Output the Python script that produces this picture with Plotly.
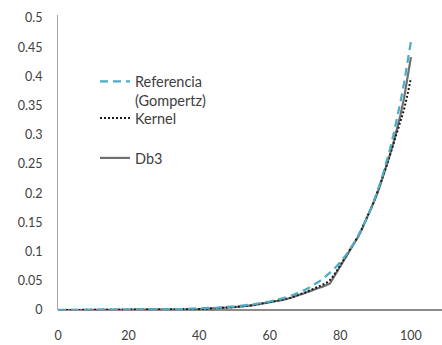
import plotly.graph_objects as go

# Edad (años) y tasas de mortalidad estimadas
ages = [0, 5, 10, 15, 20, 25, 30, 35, 40, 45, 50, 55, 60, 62, 64, 66, 68, 70,
        71, 72, 73, 74, 75, 76, 77, 78, 79, 80, 81, 82, 83, 84, 85, 86, 87,
        88, 89, 90, 91, 92, 93, 94, 95, 96, 97, 98, 99, 100]

gompertz = [0.0001, 0.0001, 0.0002, 0.0003, 0.0005, 0.0007, 0.0011, 0.0017,
            0.0026, 0.0040, 0.0062, 0.0095, 0.0146, 0.0173, 0.0206, 0.0245,
            0.0291, 0.0346, 0.0377, 0.0411, 0.0448, 0.0488, 0.0532, 0.0580,
            0.0633, 0.0690, 0.0752, 0.0819, 0.0893, 0.0974, 0.106, 0.116,
            0.126, 0.138, 0.150, 0.163, 0.178, 0.194, 0.212, 0.231, 0.251,
            0.274, 0.299, 0.326, 0.355, 0.387, 0.422, 0.460]

kernel = [0.0, 0.0, 0.0, 0.0004, 0.0005, 0.0006, 0.0008, 0.0011, 0.0016,
          0.0030, 0.0050, 0.0082, 0.0132, 0.0155, 0.0180, 0.0212, 0.0250,
          0.0300, 0.0325, 0.0350, 0.0375, 0.0400, 0.0425, 0.0460, 0.0510,
          0.0580, 0.0670, 0.0770, 0.0860, 0.0950, 0.1050, 0.1150, 0.1260,
          0.1380, 0.1510, 0.1640, 0.1780, 0.1940, 0.2100, 0.2270, 0.2450,
          0.2640, 0.2840, 0.3030, 0.3220, 0.3420, 0.3680, 0.3970]

db3 = [0.0, 0.0, 0.0, 0.0004, 0.0005, 0.0006, 0.0008, 0.0010, 0.0015,
       0.0030, 0.0050, 0.0080, 0.0130, 0.0150, 0.0175, 0.0210, 0.0245,
       0.0290, 0.0315, 0.0340, 0.0360, 0.0380, 0.0400, 0.0420, 0.0450,
       0.0550, 0.0650, 0.0740, 0.0830, 0.0930, 0.1040, 0.1140, 0.1250,
       0.1370, 0.1500, 0.1630, 0.1770, 0.1920, 0.2080, 0.2260, 0.2450,
       0.2650, 0.2850, 0.3080, 0.3330, 0.3610, 0.3950, 0.4330]

x_ticks = [0, 20, 40, 60, 80, 100]
y_ticks = [0, 0.05, 0.1, 0.15, 0.2, 0.25, 0.3, 0.35, 0.4, 0.45, 0.5]
y_labels = ["0", "0.05", "0.1", "0.15", "0.2", "0.25", "0.3", "0.35", "0.4", "0.45", "0.5"]

TEXT = "#404040"
FONT = "Lato"

fig = go.Figure()
fig.add_trace(go.Scatter(
    x=ages, y=db3, name="Db3", mode="lines",
    line=dict(color="#6f6f6f", width=2.2), legend="legend3"))
fig.add_trace(go.Scatter(
    x=ages, y=kernel, name="Kernel", mode="lines",
    line=dict(color="#1a1a1a", width=2, dash="2px,2px"), legend="legend2"))
fig.add_trace(go.Scatter(
    x=ages, y=gompertz, name="Referencia<br>(Gompertz)", mode="lines",
    line=dict(color="#4bacc6", width=2.2, dash="8px,5px"), legend="legend"))

# Plot area spans 58..442 px horizontally and 15..310 px vertically
def px_x(p):
    return (p - 58) / 384

def px_y(p):
    return (310 - p) / 295

legend_common = dict(
    xref="paper", yref="paper", xanchor="left", yanchor="middle",
    bgcolor="rgba(0,0,0,0)", borderwidth=0, valign="top",
    font=dict(family=FONT, size=14.5, color=TEXT),
)

fig.update_layout(
    width=442, height=345,
    margin=dict(l=58, r=0, t=15, b=35, autoexpand=False),
    paper_bgcolor="white", plot_bgcolor="white",
    font=dict(family=FONT, size=12.5, color=TEXT),
    showlegend=True,
    legend=dict(x=px_x(95), y=px_y(91), **legend_common),
    legend2=dict(x=px_x(95), y=px_y(118), **legend_common),
    legend3=dict(x=px_x(95), y=px_y(158), **legend_common),
    xaxis=dict(
        range=[0, 108.8], tickvals=x_ticks, showgrid=False, zeroline=False,
        showline=False, ticks="", ticklabelstandoff=16,
        tickfont=dict(family=FONT, size=12.5, color=TEXT),
    ),
    yaxis=dict(
        range=[0, 0.505], tickvals=y_ticks, ticktext=y_labels, showgrid=False,
        zeroline=True, zerolinecolor="#8c8c8c", zerolinewidth=1.5,
        showline=True, linecolor="#a6a6a6", linewidth=1, ticks="",
        ticklabelstandoff=12,
        tickfont=dict(family=FONT, size=12.5, color=TEXT),
    ),
)

fig.write_html("out.html")
